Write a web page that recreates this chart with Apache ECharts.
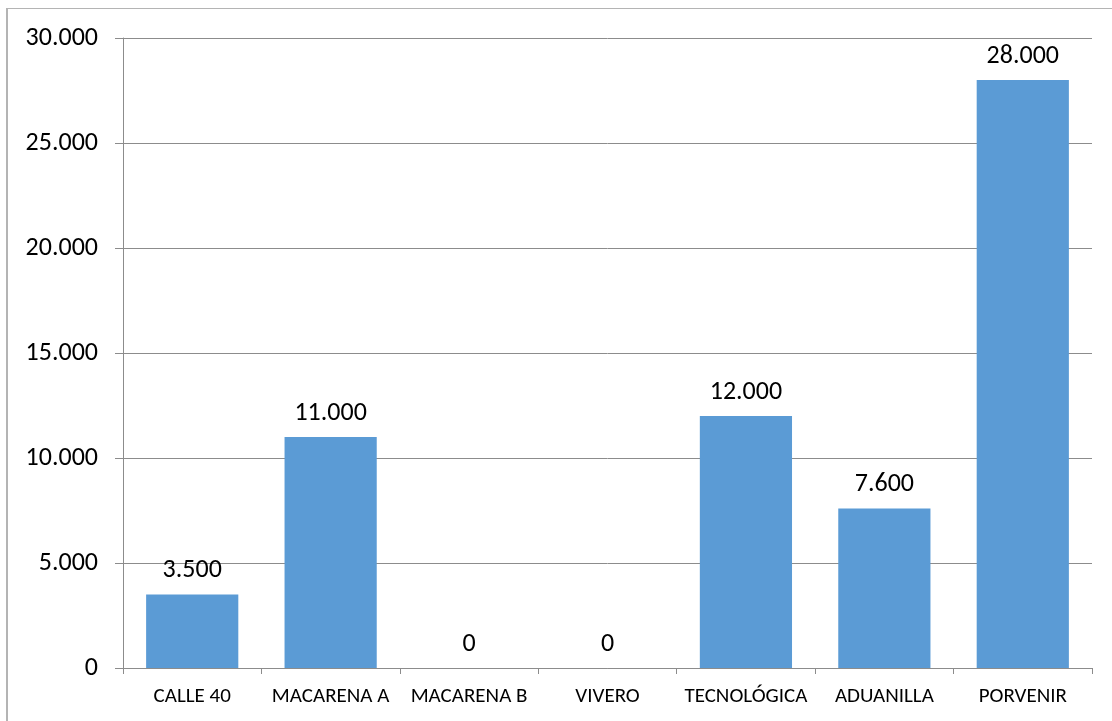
<!DOCTYPE html>
<html>
<head>
<meta charset="utf-8">
<script src="https://cdn.jsdelivr.net/npm/echarts@6/dist/echarts.min.js"></script>
<style>
  html, body { margin: 0; padding: 0; background: #fff; }
  #frame { position: absolute; left: 6px; top: 8px; width: 1106px; height: 713px;
           border-left: 2px solid #b4b4b4; border-top: 1px solid #b4b4b4; box-sizing: border-box; }
  #chart { position: absolute; left: 0; top: 0; width: 1112px; height: 721px; }
</style>
</head>
<body>
<div id="frame"></div>
<div id="chart"></div>
<script>
const categories = ['CALLE 40', 'MACARENA A', 'MACARENA B', 'VIVERO', 'TECNOLÓGICA', 'ADUANILLA', 'PORVENIR'];
const values = [3500, 11000, 0, 0, 12000, 7600, 28000];
const yTicks = { min: 0, max: 30000, interval: 5000 };

const fontFamily = 'Carlito, "Open Sans", "Liberation Sans", sans-serif';
const fmt = v => String(v).replace(/\B(?=(\d{3})+(?!\d))/g, '.');

const chart = echarts.init(document.getElementById('chart'), null, { renderer: 'canvas' });
chart.setOption({
  animation: false,
  grid: { left: 123, top: 38, right: 20, bottom: 53 },
  xAxis: {
    type: 'category',
    data: categories,
    axisLine: { lineStyle: { color: '#8c8c8c', width: 1 } },
    axisTick: { show: true, alignWithLabel: false, length: 6, lineStyle: { color: '#8c8c8c' } },
    axisLabel: { color: '#000', fontFamily, fontSize: 21, margin: 18, interval: 0 }
  },
  yAxis: {
    type: 'value',
    min: yTicks.min, max: yTicks.max, interval: yTicks.interval,
    axisLine: { show: true, lineStyle: { color: '#8c8c8c', width: 1 } },
    axisTick: { show: true, length: 8, lineStyle: { color: '#8c8c8c' } },
    splitLine: { show: true, lineStyle: { color: '#8c8c8c', width: 1 } },
    axisLabel: { color: '#000', fontFamily, fontSize: 26, margin: 25, formatter: fmt }
  },
  series: [{
    type: 'bar',
    data: values,
    barCategoryGap: '33.4%',
    itemStyle: { color: '#5b9bd5' },
    label: {
      show: true, position: 'top', distance: 11,
      color: '#000', fontFamily, fontSize: 26,
      formatter: p => fmt(p.value)
    }
  }]
});
</script>
</body>
</html>
